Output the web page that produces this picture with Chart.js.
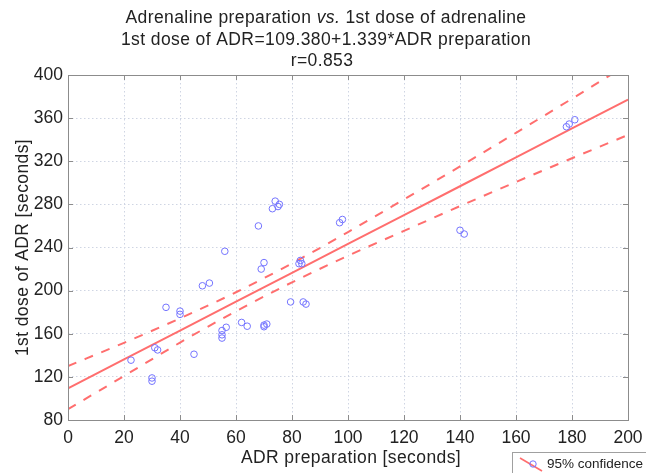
<!DOCTYPE html>
<html>
<head>
<meta charset="utf-8">
<script src="https://cdn.jsdelivr.net/npm/chart.js@4.4.0/dist/chart.umd.min.js"></script>
<style>
  html, body { margin: 0; padding: 0; background: #fff; }
  #wrap { width: 646px; height: 473px; }
</style>
</head>
<body>
<div id="wrap"><canvas id="chart" width="646" height="473"></canvas></div>
<script>
// Scatter data (seconds)
let prepSeconds = [22.5, 30, 30, 31, 32, 35, 40, 40, 45, 48, 50.5, 55, 56.5, 55, 55, 56,
    62, 64, 70, 71, 70, 68, 69, 70, 73, 74, 75.5, 75, 79.5, 84, 85, 83, 82.5, 83.5,
    97, 98, 140, 141.5, 178, 179, 181];
let doseSeconds = [135.5, 116, 119, 147, 145, 184.5, 181, 178, 141, 204.5, 207, 163, 166, 159, 156, 236.5,
    170.5, 167, 168, 169, 166.5, 260, 220, 226, 276, 283, 280, 278, 189.5, 189.5, 187.5, 228, 225, 225,
    263, 266, 256, 252.5, 352, 354.5, 358.5];

// Fit line and 95% confidence band, read at every 20 s
let fitX = [0, 20, 40, 60, 80, 100, 120, 140, 160, 180, 200];
let fitLine = [109.4, 136.2, 163.0, 189.7, 216.5, 243.3, 270.0, 296.8, 323.6, 350.4, 377.2];
let upperBand = [130.0, 151.6, 174.3, 198.5, 225.3, 254.3, 284.6, 315.2, 346.4, 378.0, 410.0];
let lowerBand = [90.0, 120.8, 151.8, 180.9, 207.7, 232.3, 255.4, 278.4, 300.8, 322.8, 344.4];

let titleLines = ["Adrenaline preparation ", "vs.", " 1st dose of adrenaline",
    "1st dose of ADR=109.380+1.339*ADR preparation", "r=0.853"];
let xTitle = "ADR preparation [seconds]";
let yTitle = "1st dose of ADR [seconds]";
let legendText = "95% confidence";

let xMin = 0, xMax = 200, xStep = 20;
let yMin = 80, yMax = 400, yStep = 40;

let pointColor = "#7474ff";
let lineColor = "#ff6e6e";
let font = "'Liberation Sans', Arial, sans-serif";

function toXY(xs, ys) {
    let out = [];
    for (let i = 0; i < xs.length; i++) {
        out.push({ x: xs[i], y: ys[i] });
    }
    return out;
}

// frame, inner tick marks, titles and legend
let decorations = {
    id: "decorations",
    afterDatasetsDraw(chart) {
        let ctx = chart.ctx;
        let a = chart.chartArea;
        ctx.save();
        ctx.strokeStyle = "#8c8c8c";
        ctx.lineWidth = 1;
        ctx.strokeRect(Math.round(a.left) + 0.5, Math.round(a.top) + 0.5,
            Math.round(a.right - a.left), Math.round(a.bottom - a.top));
        ctx.beginPath();
        for (let v = xMin; v <= xMax; v += xStep) {
            let px = Math.round(chart.scales.x.getPixelForValue(v)) + 0.5;
            ctx.moveTo(px, a.bottom); ctx.lineTo(px, a.bottom - 5);
            ctx.moveTo(px, a.top); ctx.lineTo(px, a.top + 5);
        }
        for (let v = yMin; v <= yMax; v += yStep) {
            let py = Math.round(chart.scales.y.getPixelForValue(v)) + 0.5;
            ctx.moveTo(a.left, py); ctx.lineTo(a.left + 5, py);
            ctx.moveTo(a.right, py); ctx.lineTo(a.right - 5, py);
        }
        ctx.stroke();
        ctx.restore();
    },
    afterDraw(chart) {
        let ctx = chart.ctx;
        ctx.save();
        ctx.fillStyle = "#222";
        ctx.textBaseline = "alphabetic";
        ctx.letterSpacing = "0.4px";

        // title, first line has italic "vs."
        let normal = "17.5px " + font;
        let italic = "italic 17.5px " + font;
        ctx.font = normal;
        let w1 = ctx.measureText(titleLines[0]).width;
        let w3 = ctx.measureText(titleLines[2]).width;
        ctx.font = italic;
        let w2 = ctx.measureText(titleLines[1]).width;
        let x0 = 326 - (w1 + w2 + w3) / 2;
        ctx.textAlign = "left";
        ctx.font = normal;
        ctx.fillText(titleLines[0], x0, 23);
        ctx.font = italic;
        ctx.fillText(titleLines[1], x0 + w1, 23);
        ctx.font = normal;
        ctx.fillText(titleLines[2], x0 + w1 + w2, 23);
        ctx.textAlign = "center";
        ctx.fillText(titleLines[3], 326, 44.5);
        ctx.fillText(titleLines[4], 322, 65.5);

        // axis titles
        ctx.fillText(xTitle, 351, 463);
        ctx.save();
        ctx.translate(28, 247.5);
        ctx.rotate(-Math.PI / 2);
        ctx.fillText(yTitle, 0, 0);
        ctx.restore();

        // legend box
        ctx.letterSpacing = "0px";
        ctx.fillStyle = "#fff";
        ctx.fillRect(512.5, 452.5, 140, 30);
        ctx.strokeStyle = "#a0a0a0";
        ctx.lineWidth = 1;
        ctx.strokeRect(512.5, 452.5, 140, 30);
        ctx.strokeStyle = lineColor;
        ctx.lineWidth = 1.6;
        ctx.beginPath();
        ctx.moveTo(520, 458);
        ctx.lineTo(542, 471);
        ctx.stroke();
        ctx.strokeStyle = pointColor;
        ctx.lineWidth = 1;
        ctx.beginPath();
        ctx.arc(533, 464, 3.2, 0, Math.PI * 2);
        ctx.stroke();
        ctx.fillStyle = "#222";
        ctx.textAlign = "left";
        ctx.font = "13.5px " + font;
        ctx.fillText(legendText, 547, 468);
        ctx.restore();
    }
};

let ctx = document.getElementById("chart").getContext("2d");

let chart = new Chart(ctx, {
    type: "scatter",
    data: {
        datasets: [{
            label: "data",
            data: toXY(prepSeconds, doseSeconds),
            showLine: false,
            pointRadius: 3.3,
            pointBorderWidth: 1,
            pointBorderColor: pointColor,
            pointBackgroundColor: "rgba(0,0,0,0)"
        }, {
            label: "fit",
            data: toXY(fitX, fitLine),
            showLine: true,
            pointRadius: 0,
            borderColor: lineColor,
            borderWidth: 2,
            tension: 0
        }, {
            label: "upper",
            data: toXY(fitX, upperBand),
            showLine: true,
            pointRadius: 0,
            borderColor: lineColor,
            borderWidth: 2,
            borderDash: [9, 9],
            cubicInterpolationMode: "monotone"
        }, {
            label: "lower",
            data: toXY(fitX, lowerBand),
            showLine: true,
            pointRadius: 0,
            borderColor: lineColor,
            borderWidth: 2,
            borderDash: [9, 9],
            cubicInterpolationMode: "monotone"
        }]
    },
    options: {
        responsive: false,
        animation: false,
        layout: { padding: { top: 75, right: 18, left: 0, bottom: 0 } },
        plugins: {
            legend: { display: false },
            title: { display: false },
            tooltip: { enabled: false }
        },
        scales: {
            x: {
                type: "linear",
                min: xMin,
                max: xMax,
                ticks: {
                    stepSize: xStep,
                    color: "#222",
                    padding: 8,
                    maxRotation: 0,
                    font: { family: font, size: 17.5 }
                },
                grid: { color: "#cfd5e3", drawTicks: false, lineWidth: 1 },
                border: { display: false, dash: [1.5, 2.5] },
                afterFit: function (scale) {
                    scale.height = 53;
                    scale.paddingLeft = 0;
                    scale.paddingRight = 0;
                }
            },
            y: {
                type: "linear",
                min: yMin,
                max: yMax,
                ticks: {
                    stepSize: yStep,
                    color: "#222",
                    padding: 5,
                    font: { family: font, size: 17.5 }
                },
                grid: { color: "#cfd5e3", drawTicks: false, lineWidth: 1 },
                border: { display: false, dash: [1.5, 2.5] },
                afterFit: function (scale) {
                    scale.width = 68;
                    scale.paddingTop = 0;
                    scale.paddingBottom = 0;
                }
            }
        }
    },
    plugins: [decorations]
});
</script>
</body>
</html>
